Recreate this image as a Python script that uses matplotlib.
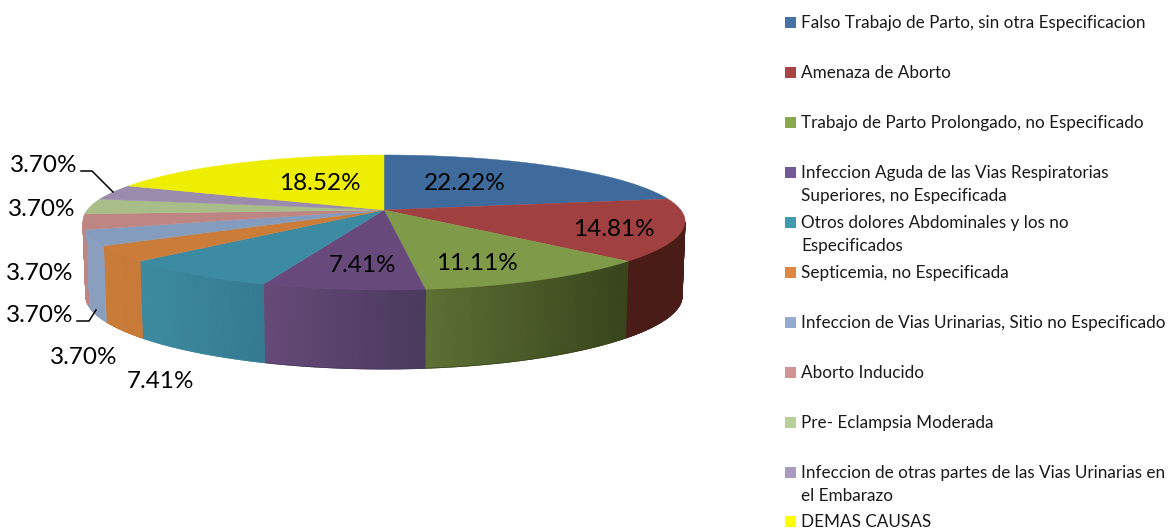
import numpy as np
import matplotlib
matplotlib.use('Agg')
import matplotlib.pyplot as plt
from matplotlib.colors import LinearSegmentedColormap

# values, in percent
categories = ['Falso Trabajo de Parto, sin otra Especificacion',
              'Amenaza de Aborto',
              'Trabajo de Parto Prolongado, no Especificado',
              'Infeccion Aguda de las Vias Respiratorias\nSuperiores, no Especificada',
              'Otros dolores Abdominales y los no\nEspecificados',
              'Septicemia, no Especificada',
              'Infeccion de Vias Urinarias, Sitio no Especificado',
              'Aborto Inducido',
              'Pre- Eclampsia Moderada',
              'Infeccion de otras partes de las Vias Urinarias en\nel Embarazo',
              'DEMAS CAUSAS']
values = [22.22, 14.81, 11.11, 7.41, 7.41, 3.70, 3.70, 3.70, 3.70, 3.70, 18.52]

top_colors = ['#3f6b9c', '#a04040', '#7f9a48', '#67497c', '#3d8ba3', '#cb7c38',
              '#849cbe', '#bd8683', '#a9bd88', '#9b8bad', '#eeee00']
# wall shading, right and left end of each slice as seen on the picture
wall_right = ['#3f6b9c', '#4a1c18', '#38441c', '#4a3a5c', '#357a90', '#c87a38',
              '#8a9fbe', '#c08585', '#a9bd88', '#9b8bad', '#eeee00']
wall_left = ['#3f6b9c', '#4a1c18', '#5e7034', '#664a78', '#3d8ba0', '#c97b38',
             '#8a9fbe', '#c08585', '#a9bd88', '#9b8bad', '#eeee00']
legend_colors = ['#4672a8', '#a94442', '#8aa84c', '#725a96', '#419bb0', '#df8642',
                 '#95aacf', '#d09593', '#b9cf98', '#a99bbf', '#ffff00']

legend_y = [22, 72, 122, 172, 222, 272, 322, 372, 422, 472, 521]

# label text and where it sits
label_x = [465, 614, 477, 363, 160, 84, 40, 40, 42, 44, 320]
label_y = [183, 229, 263, 265, 382, 357, 315, 273, 209, 166, 183]

cx, cy = 384, 210
rx, ry = 296.8, 65.2
persp_x, persp_y = 0.168, 0.185


def top_point(deg):
    t = np.radians(deg)
    u, v = np.sin(t), np.cos(t)
    return cx + rx * u / (1 + persp_x * v), cy - ry * v / (1 + persp_y * v)


def bottom_point(deg):
    x, y = top_point(deg)
    v = np.cos(np.radians(deg))
    return cx + (x - cx) * 0.99, y + 75 + 4 * v ** 2


fig = plt.figure(figsize=(11.69, 5.29), dpi=100)
ax = fig.add_axes([0, 0, 1, 1])

plt.rcParams['font.family'] = ['Lato', 'DejaVu Sans']

edges = np.concatenate([[0], np.cumsum(values) / sum(values) * 360])

# side wall: a gouraud mesh for each visible slice, 100-260 is the silhouette
for i in range(len(values)):
    s, e = max(edges[i], 100), min(edges[i + 1], 260)
    if e <= s:
        continue
    a = np.linspace(s, e, 40)
    tx, ty = top_point(a)
    bx, by = bottom_point(a)
    X = np.array([tx, bx])
    Y = np.array([ty, by])
    C = (X - X.min()) / (X.max() - X.min())
    cmap = LinearSegmentedColormap.from_list('w%d' % i, [wall_left[i], wall_right[i]])
    ax.pcolormesh(X, Y, C, shading='gouraud', cmap=cmap, vmin=0, vmax=1, zorder=2)
    # clean lower edge, the mesh has none
    ax.plot(bx, by, color=wall_left[i] if i > 3 else wall_right[i], lw=0.5, zorder=2)

ax.set_xlim(0, 1169)
ax.set_ylim(529, 0)
ax.axis('off')

# top of the pie
for i in range(len(values)):
    a = np.linspace(edges[i], edges[i + 1], 80)
    xs, ys = top_point(a)
    ax.fill(np.r_[cx, xs], np.r_[cy, ys], color=top_colors[i], lw=0.3, zorder=3)

for i in range(len(values)):
    ax.text(label_x[i], label_y[i], '%.2f%%' % values[i], fontsize=17.5, color='black',
            ha='center', va='center', zorder=5)

# leader lines of the two outer labels
ax.plot([81, 92, 113], [171, 171, 192], color='black', lw=1.1, zorder=4)
ax.plot([77, 89, 96], [321, 321, 310], color='black', lw=1.1, zorder=4)

# legend
for name, color, y in zip(categories, legend_colors, legend_y):
    ax.fill([785, 796, 796, 785], [y - 5.5, y - 5.5, y + 5.5, y + 5.5], color=color, lw=0, zorder=3)
    for n, line in enumerate(name.split('\n')):
        ax.text(801, y + 6 + 23 * n, line, fontsize=12.3, color='#1a1a1a', ha='left', va='baseline')

fig.savefig('out.png', dpi=100)
